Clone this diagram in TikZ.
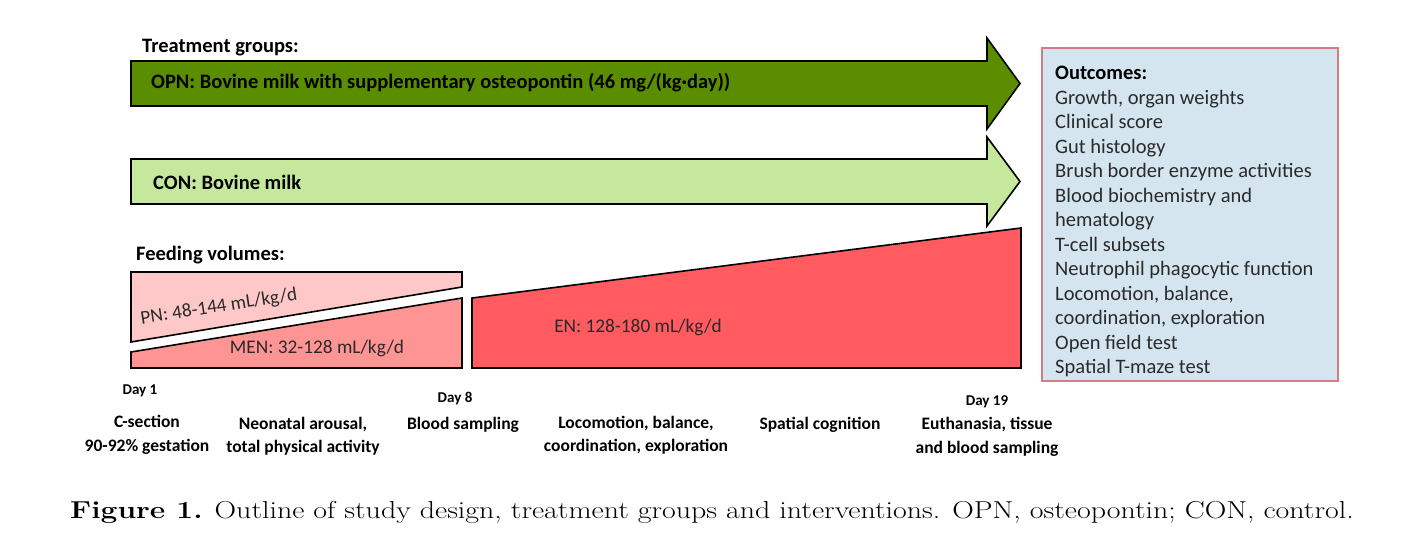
\documentclass[tikz,border=0pt]{standalone}
\usepackage{fontspec}
\usepackage{graphicx}
\setmainfont{Carlito}
\newfontfamily\capfont{Latin Modern Roman}
\definecolor{opngreen}{HTML}{5B8D00}
\definecolor{congreen}{HTML}{C6E89C}
\definecolor{pnpink}{HTML}{FFC8C8}
\definecolor{menpink}{HTML}{FF9494}
\definecolor{enred}{HTML}{FF5B60}
\definecolor{outfill}{HTML}{D4E5F0}
\definecolor{outline}{HTML}{D47C80}
\definecolor{txtgray}{HTML}{2A2A2A}
\tikzset{
  shapebox/.style={draw=black, line width=1.6pt, line join=miter},
  headtext/.style={font=\fontsize{20.5}{24}\selectfont\bfseries, anchor=west, inner sep=0pt},
  grouptext/.style={font=\fontsize{20.5}{24}\selectfont\bfseries, anchor=west, inner sep=0pt},
  voltext/.style={font=\fontsize{19.3}{22}\selectfont, text=txtgray, inner sep=0pt},
  timetext/.style={font=\fontsize{17.5}{23.5}\selectfont\bfseries, align=center, inner sep=0pt},
  daytext/.style={font=\fontsize{15}{17}\selectfont\bfseries, inner sep=0pt},
}
\begin{document}
\begin{tikzpicture}[x=1pt,y=-1pt]
\useasboundingbox (0,0) rectangle (1416,552);
% headings
\node[headtext] (tg) at (142,48) {Treatment groups:};
\node[headtext] (fv) at (136,255) {Feeding volumes:};
% OPN arrow
\draw[shapebox, fill=opngreen] (131,61) -- (987,61) -- (987,38) -- (1020,83.5) -- (987,129) -- (987,106) -- (131,106) -- cycle;
\node[grouptext] (opn) at (151,83) {OPN: Bovine milk with supplementary osteopontin (46 mg/(kg·day))};
% CON arrow
\draw[shapebox, fill=congreen] (131,159) -- (987,159) -- (987,137) -- (1020,181.5) -- (987,226) -- (987,204) -- (131,204) -- cycle;
\node[grouptext] (con) at (153,182) {CON: Bovine milk};
% PN
\draw[shapebox, fill=pnpink] (131,272) -- (462,272) -- (462,287) -- (131,342) -- cycle;
\node[voltext, rotate=8.8] (pn) at (219,307) {PN: 48-144 mL/kg/d};
% MEN
\draw[shapebox, fill=menpink] (131,352) -- (462,298) -- (462,368) -- (131,368) -- cycle;
\node[voltext] (men) at (317,348) {MEN: 32-128 mL/kg/d};
% EN
\draw[shapebox, fill=enred] (472,298) -- (1021,228) -- (1021,368) -- (472,368) -- cycle;
\node[voltext] (en) at (638,327) {EN: 128-180 mL/kg/d};
% Outcomes
\node[draw=outline, line width=1.5pt, fill=outfill, minimum width=296pt, minimum height=333pt, anchor=north west, inner sep=0pt] (outbox) at (1041,47) {};
\node[anchor=north west, inner sep=0pt, align=left, font=\fontsize{20.5}{24.5}\selectfont, text=txtgray] (outtext) at (1055,66)
{\textbf{\color{black}Outcomes:}\\Growth, organ weights\\Clinical score\\Gut histology\\Brush border enzyme activities\\Blood biochemistry and\\hematology\\T-cell subsets\\Neutrophil phagocytic function\\Locomotion, balance,\\coordination, exploration\\Open field test\\Spatial T-maze test};
% timeline
\node[daytext] (d1) at (140,391) {Day 1};
\node[daytext] (d8) at (455,398) {Day 8};
\node[daytext] (d19) at (987,402) {Day 19};
\node[timetext] (cs) at (147,435) {C-section\\90-92\% gestation};
\node[timetext] (na) at (303,436) {Neonatal arousal,\\total physical activity};
\node[timetext] (bs) at (463,425) {Blood sampling};
\node[timetext] (lb) at (636,435) {Locomotion, balance,\\coordination, exploration};
\node[timetext] (sc) at (820,425) {Spatial cognition};
\node[timetext] (eu) at (987,437) {Euthanasia, tissue\\and blood sampling};
% caption
\node[anchor=west, inner sep=0pt] (cap) at (70,512) {\scalebox{1.22}[1]{\capfont\fontsize{24.5}{28}\selectfont\textbf{Figure 1.} Outline of study design, treatment groups and interventions. OPN, osteopontin; CON, control.}};
\end{tikzpicture}
\end{document}
